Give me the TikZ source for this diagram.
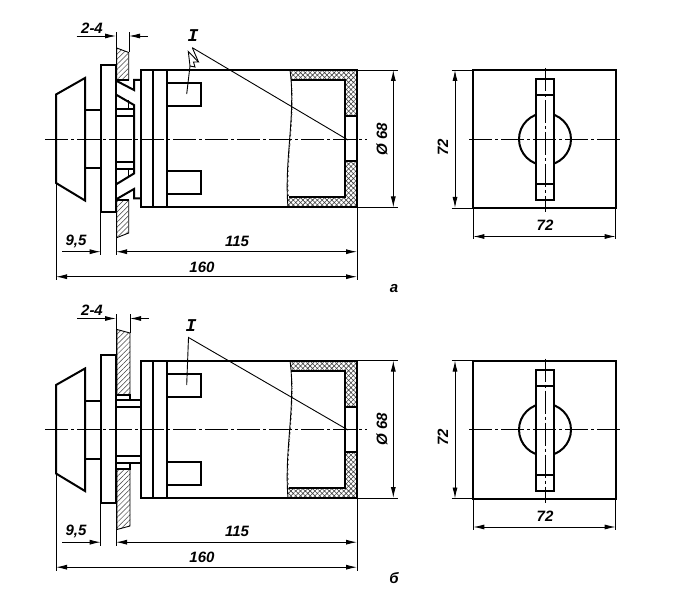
\documentclass[tikz,border=0pt]{standalone}
\usepackage{fontspec}
\setmainfont{Liberation Sans}
\newfontfamily\romanI{Liberation Mono}
\usetikzlibrary{arrows.meta}
\usetikzlibrary{patterns.meta}
\tikzset{
  contour/.style={line width=2pt,line join=miter},
  thinline/.style={line width=0.9pt},
  axisline/.style={line width=0.9pt,dash pattern=on 23pt off 3pt on 3pt off 3pt},
  dimline/.style={line width=0.9pt,-{Latex[length=11pt,width=5pt]}},
  dimboth/.style={line width=0.9pt,{Latex[length=11pt,width=5pt]}-{Latex[length=11pt,width=5pt]}},
  dimtext/.style={font=\bfseries\itshape\fontsize{15}{15}\selectfont,inner sep=0pt},
  panelhatch/.style={pattern={Lines[angle=45,distance=3.6pt,line width=0.5pt]},pattern color=black!75},
  wallhatch/.style={pattern={Hatch[angle=45,distance=3.4pt,line width=0.6pt]},pattern color=black!75}
}
\begin{document}
\begin{tikzpicture}[x=1pt,y=-1pt]
  \useasboundingbox (0,0) rectangle (678,604);
  \fill[white] (0,0) rectangle (678,604);
  % both views: knob, housing, back view
  \foreach \dy/\ib in {0/up,290.5/low}{
    \begin{scope}[yshift=-\dy pt]
      % housing wall
      \fill[wallhatch] (290,70) .. controls (296,115) and (284,160) .. (288,207.5)
        -- (357,207.5) -- (357,161) -- (344.5,161) -- (344.5,197.5) -- (289,197.5)
        .. controls (286,160) and (296,115) .. (291.5,80) -- (344.5,80)
        -- (344.5,116) -- (357,116) -- (357,70) -- cycle;
      \draw[thinline] (290,70) .. controls (296,115) and (284,160) .. (288,207.5);
      \draw[contour] (141,70) rectangle (357,207.5);
      \draw[contour] (291,80) -- (344.5,80) -- (344.5,197.5) -- (289,197.5);
      \draw[contour] (344.5,116) -- (357,116);
      \draw[contour] (344.5,161) -- (357,161);
      \draw[contour] (152.5,70) -- (152.5,207.5);
      \draw[contour] (167,70) -- (167,207.5);
      % terminals
      \draw[contour] (167,83.5) -- (201,83.5) -- (201,106) -- (167,106);
      \draw[contour] (167,171.5) -- (201,171.5) -- (201,194) -- (167,194);
      % knob
      \draw[contour] (56,94.5) -- (85,78) -- (85,200.5) -- (56,183) -- cycle;
      \draw[contour] (85,110) -- (100.7,110);
      \draw[contour] (85,168) -- (100.7,168);
      \draw[contour] (100.7,65) rectangle (116,212.5);
      % back view
      \draw[contour] (473.3,70) rectangle (615.7,208);
      \draw[contour] (545,139.2) circle (26);
      \draw[contour,fill=white] (536,79) rectangle (553.7,200);
      \draw[contour] (536,95) -- (553.7,95);
      \draw[contour] (536,184) -- (553.7,184);
      \draw[axisline] (469,139.2) -- (621,139.2);
      \draw[axisline] (545,68) -- (545,212);
      \draw[axisline] (45,139.2) -- (367,139.2);
      % outer dimensions
      \draw[thinline] (451.7,70) -- (473.3,70);
      \draw[thinline] (451.7,208) -- (473.3,208);
      \draw[dimboth] (455,70) -- (455,208);
      \node[dimtext,rotate=90] (size72v\ib) at (443,147) {72};
      \draw[thinline] (473.3,208) -- (473.3,239.5);
      \draw[thinline] (615.7,208) -- (615.7,239.5);
      \draw[dimboth] (473.3,236.5) -- (615.7,236.5);
      \node[dimtext] (size72h\ib) at (545,225.5) {72};
      \draw[thinline] (357,70) -- (398,70);
      \draw[thinline] (357,207.5) -- (398,207.5);
      \draw[dimboth] (393.3,70) -- (393.3,207.5);
      \node[dimtext,rotate=90] (size68\ib) at (382,139) {Ø 68};
      \draw[thinline] (357,207.5) -- (357,280);
      \draw[thinline] (56,183) -- (56,280);
      \draw[thinline] (100.7,212.5) -- (100.7,255);
      \draw[thinline] (116,212.5) -- (116,255);
      \draw[dimline] (62,251.7) -- (100.7,251.7);
      \draw[dimboth] (116,251.7) -- (357,251.7);
      \draw[dimboth] (56,276.7) -- (357,276.7);
      \node[dimtext] (size95\ib) at (76,241) {9,5};
      \node[dimtext] (size115\ib) at (237,241) {115};
      \node[dimtext] (size160\ib) at (202,267) {160};
    \end{scope}
  }
  % panel and clip, upper view
  \filldraw[thinline,panelhatch] (116.7,48) -- (128.7,52.5) -- (128.7,80) -- (116.7,80) -- cycle;
  \filldraw[thinline,panelhatch] (116.7,200) -- (128.7,200) -- (128.7,233) -- (116.7,237.7) -- cycle;
  \draw[contour] (116.7,80) -- (128.7,80);
  \draw[contour] (116.7,81) -- (134,90) -- (134,80) -- (141,80);
  \draw[contour] (116.7,95) -- (134,105) -- (134,173.5) -- (116.7,184);
  \draw[contour] (116.7,199) -- (134,189) -- (134,198.5) -- (141,198.5);
  \draw[contour] (116.7,200) -- (128.7,200);
  \draw[contour] (116.7,109) -- (134,109);
  \draw[contour] (116.7,116) -- (133,116);
  \draw[contour] (116.7,169) -- (134,169);
  \draw[contour] (116.7,162) -- (133,162);
  \draw[thinline] (128.7,100) -- (128.7,109);
  \draw[thinline] (128.7,169) -- (128.7,178);
  % panel and bush, lower view
  \filldraw[thinline,panelhatch] (117,329.5) -- (130,333) -- (130,395) -- (117,395) -- cycle;
  \filldraw[thinline,panelhatch] (117,468.5) -- (130,468.5) -- (130,526) -- (117,529.5) -- cycle;
  \draw[contour] (117,395) -- (130,395) -- (130,400);
  \draw[contour] (117,468.5) -- (130,468.5) -- (130,463);
  \draw[contour] (116,400) -- (141,400);
  \draw[contour] (116,407.3) -- (141,407.3);
  \draw[contour] (116,456) -- (141,456);
  \draw[contour] (116,462.7) -- (141,462.7);
  \draw[contour] (141,400) -- (141,462.7);
  % dimension 2-4, upper
  \draw[thinline] (116,32.5) -- (116,65);
  \draw[thinline] (129,32.5) -- (129,52);
  \draw[dimline] (76.7,36) -- (116,36);
  \draw[dimline] (147.5,36) -- (129,36);
  \node[dimtext] (gapup) at (92,28) {2-4};
  % dimension 2-4, lower
  \draw[thinline] (116,314.5) -- (116,356);
  \draw[thinline] (130,314.5) -- (130,333);
  \draw[dimline] (77,318.5) -- (116,318.5);
  \draw[dimline] (149,318.5) -- (130,318.5);
  \node[dimtext] (gaplow) at (92,310) {2-4};
  % leaders I, upper
  \node[dimtext,font=\bfseries\itshape\fontsize{18}{18}\selectfont] (markup) at (193,36) {\romanI I};
  \coordinate (leadA) at (192.3,47.7);
  \coordinate (leadB) at (348,140);
  \coordinate (leadC) at (186.7,94);
  \draw[thinline] (leadA) -- (leadB);
  \draw[thinline] (leadC) -- (190,66);
  \draw[thinline] (190,66) -- (188.3,51.5) -- (198.5,62) -- (193.5,62) -- (195,67) -- (190,66);
  \draw[thinline] (leadA) -- (198.5,62);
  % leaders I, lower
  \node[dimtext,font=\bfseries\itshape\fontsize{18}{18}\selectfont] (marklow) at (191,326) {\romanI I};
  \coordinate (leadD) at (188.5,337.5);
  \coordinate (leadE) at (348,430);
  \coordinate (leadF) at (186.7,385);
  \draw[thinline] (leadF) -- (leadD) -- (leadE);
  % view letters
  \node[dimtext] (viewa) at (394,289) {а};
  \node[dimtext] (viewb) at (394,578) {б};
\end{tikzpicture}
\end{document}
